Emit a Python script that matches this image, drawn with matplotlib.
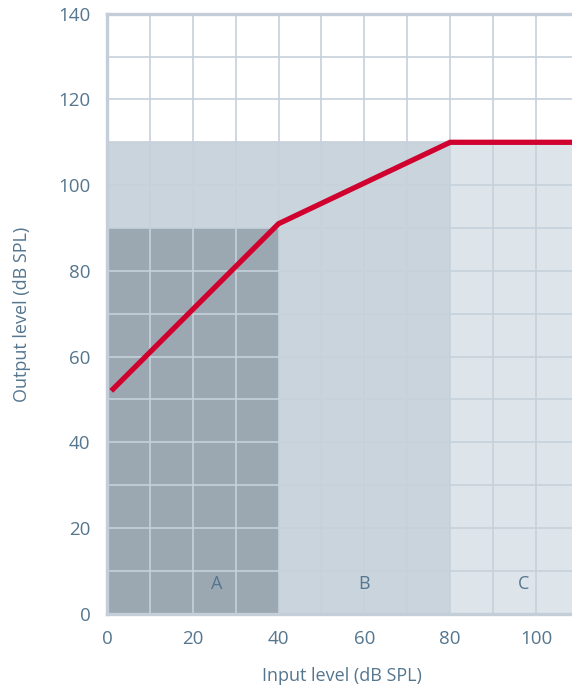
import matplotlib
matplotlib.use("Agg")
import matplotlib.pyplot as plt

# ===== data =====
input_level = [1, 40, 80, 108.4]
output_level = [52, 91, 110, 110]

# regions: (label, x start, x end, y top, label x, color)
region_names = ["A", "B", "C"]
region_x0 = [0, 40, 80]
region_x1 = [40, 80, 108.4]
region_top = [90, 110, 110]
region_label_x = [25.5, 60, 97]
region_colors = ["#9ca8b1", "#c9d4dc", "#dde4ea"]

x_ticks = [0, 20, 40, 60, 80, 100]
y_ticks = [0, 20, 40, 60, 80, 100, 120, 140]

text_color = "#55768f"
grid_color = "#c6d1da"

plt.rcParams['font.family'] = ['Open Sans', 'DejaVu Sans']

fig = plt.figure(figsize=(5.72, 6.85), dpi=100)
ax = fig.add_axes([0.187, 0.104, 0.813, 0.876])

# band behind region A (0-40, up to 110)
ax.fill_between([0, 40], 0, 110, color=region_colors[1], lw=0, zorder=1)
for name, x0, x1, top, lx, c in zip(region_names, region_x0, region_x1,
                                    region_top, region_label_x, region_colors):
    ax.fill_between([x0, x1], 0, top, color=c, lw=0, zorder=1)
    ax.text(lx, 7.0, name, ha='center', va='center', fontsize=13,
            color=text_color, zorder=4)

# grid every 10
for gx in range(10, 110, 10):
    ax.axvline(gx, color=grid_color, lw=1.2, zorder=2)
for gy in range(10, 140, 10):
    ax.axhline(gy, color=grid_color, lw=1.2, zorder=2)

ax.plot(input_level, output_level, color="#d0002f", lw=3.8,
        solid_capstyle='butt', solid_joinstyle='miter', zorder=5)

ax.set_xlim(0, 108.4)
ax.set_ylim(0, 140)
ax.set_xticks(x_ticks)
ax.set_yticks(y_ticks)
ax.tick_params(length=0, labelsize=13.5, labelcolor=text_color)
ax.tick_params(axis='x', pad=12)
ax.tick_params(axis='y', pad=12)

for side in ['left', 'top', 'bottom']:
    ax.spines[side].set_color("#c3ced8")
    ax.spines[side].set_linewidth(2.4)
ax.spines['right'].set_visible(False)

fig.text(342 / 572, 1 - 676 / 685, "Input level (dB SPL)", ha='center', va='center',
         fontsize=13, color=text_color)
fig.text(22 / 572, 1 - 314 / 685, "Output level (dB SPL)", ha='center', va='center',
         rotation=90, fontsize=13, color=text_color)

fig.savefig("out.png", dpi=100)
